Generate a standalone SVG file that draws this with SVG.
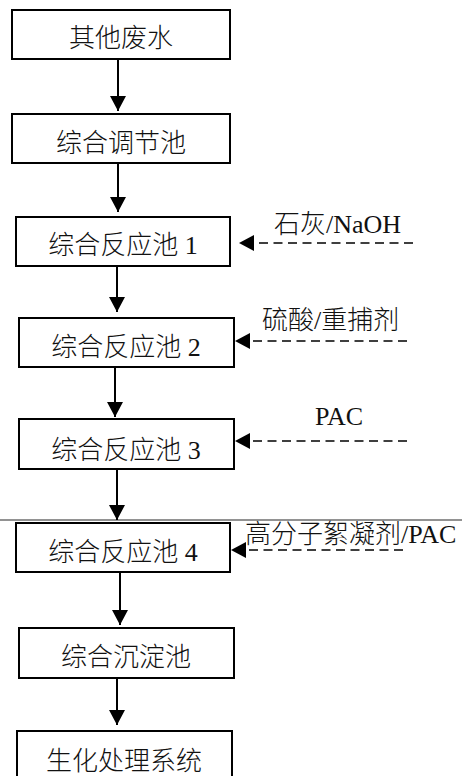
<svg xmlns="http://www.w3.org/2000/svg" width="462" height="776" viewBox="0 0 462 776">
  <style>
    .box { fill: #ffffff; stroke: #000000; stroke-width: 2; }
    .lbl { font-family: "Liberation Serif", "Noto Sans CJK SC", serif; font-size: 26px; font-weight: 300; fill: #111111; }
    .ctr { text-anchor: middle; }
    .flow { stroke: #000000; stroke-width: 2; fill: none; marker-end: url(#head); }
    .dose { stroke: #000000; stroke-width: 1.6; fill: none; stroke-dasharray: 9 5.5; marker-end: url(#head); }
    .rule { stroke: #6e6e6e; stroke-width: 1.5; }
  </style>
  <defs>
    <marker id="head" markerUnits="userSpaceOnUse" markerWidth="15" markerHeight="16" refX="15" refY="8" orient="auto">
      <path d="M0,0 L15,8 L0,16 z" fill="#000000"/>
    </marker>
  </defs>

  <rect width="462" height="776" fill="#ffffff"/>

  <!-- separator line -->
  <line class="rule" x1="0" y1="520" x2="462" y2="520"/>

  <!-- process steps -->
  <g id="n1"><rect class="box" x="12" y="10" width="218" height="49"/><text class="lbl ctr" x="121" y="47">其他废水</text></g>
  <g id="n2"><rect class="box" x="12" y="114" width="218" height="49"/><text class="lbl ctr" x="121" y="152">综合调节池</text></g>
  <g id="n3"><rect class="box" x="16" y="217" width="214" height="49"/><text class="lbl ctr" x="123" y="254">综合反应池 1</text></g>
  <g id="n4"><rect class="box" x="19" y="318" width="215" height="49"/><text class="lbl ctr" x="126" y="356">综合反应池 2</text></g>
  <g id="n5"><rect class="box" x="19" y="419" width="215" height="50"/><text class="lbl ctr" x="126" y="459">综合反应池 3</text></g>
  <g id="n6"><rect class="box" x="16" y="523" width="214" height="49"/><text class="lbl ctr" x="123" y="561">综合反应池 4</text></g>
  <g id="n7"><rect class="box" x="19" y="628" width="215" height="50"/><text class="lbl ctr" x="126" y="666">综合沉淀池</text></g>
  <g id="n8"><rect class="box" x="17" y="731" width="215" height="60"/><text class="lbl ctr" x="124" y="770">生化处理系统</text></g>

  <!-- dosing labels -->
  <g id="d1"><text class="lbl" x="274" y="233">石灰/NaOH</text></g>
  <g id="d2"><text class="lbl" x="262" y="329">硫酸/重捕剂</text></g>
  <g id="d3"><text class="lbl" x="315" y="425">PAC</text></g>
  <g id="d4"><text class="lbl" x="245" y="543">高分子絮凝剂/PAC</text></g>

  <!-- connectors -->
  <g id="connectors">
    <line class="flow" x1="118" y1="59" x2="118" y2="111"/>
    <line class="flow" x1="118" y1="163" x2="118" y2="212"/>
    <line class="flow" x1="117" y1="266" x2="117" y2="312"/>
    <line class="flow" x1="115" y1="367" x2="115" y2="417"/>
    <line class="flow" x1="117" y1="469" x2="117" y2="520"/>
    <line class="flow" x1="120" y1="572" x2="120" y2="625"/>
    <line class="flow" x1="117" y1="678" x2="117" y2="725"/>

    <line class="dose" x1="413" y1="243" x2="239" y2="243"/>
    <line class="dose" x1="407" y1="341" x2="235" y2="341"/>
    <line class="dose" x1="407" y1="441" x2="235" y2="441"/>
    <line class="dose" x1="403" y1="550" x2="231" y2="550"/>
  </g>
</svg>
